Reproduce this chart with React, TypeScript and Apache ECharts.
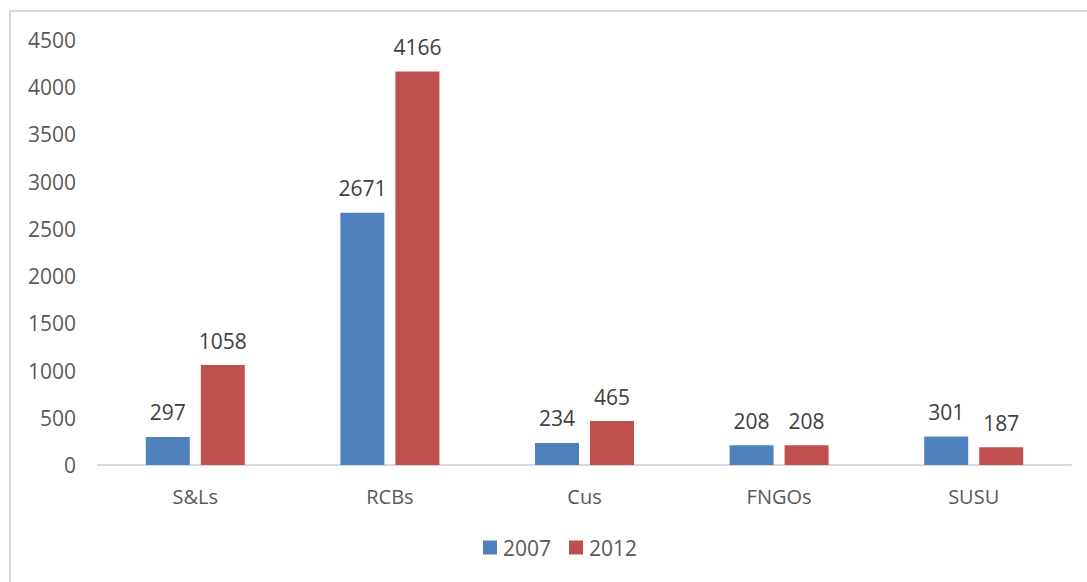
import React, { useEffect, useRef } from "react";
import * as echarts from "echarts";

const categories = ["S&Ls", "RCBs", "Cus", "FNGOs", "SUSU"];
const values2007 = [297, 2671, 234, 208, 301];
const values2012 = [1058, 4166, 465, 208, 187];
const seriesNames = ["2007", "2012"];

export default function App() {
  const ref = useRef<HTMLDivElement>(null);
  useEffect(() => {
    const chart = echarts.init(ref.current!, null, { renderer: "svg" });
    const font = "'Open Sans', 'Noto Sans', sans-serif";
    const label = {
      show: true,
      position: "top" as const,
      distance: 14,
      color: "#404040",
      fontSize: 21,
      fontFamily: font,
    };
    chart.setOption({
      animation: false,
      backgroundColor: "#ffffff",
      graphic: [
        {
          type: "rect",
          shape: { x: 10, y: 11, width: 1200, height: 700 },
          style: { fill: "none", stroke: "#d9d9d9", lineWidth: 2 },
          silent: true,
        },
      ],
      grid: { left: 98, right: 16, top: 40, bottom: 117 },
      legend: {
        data: seriesNames,
        top: 537,
        left: 483,
        padding: 0,
        itemWidth: 14,
        itemHeight: 14,
        itemGap: 18,
        icon: "rect",
        textStyle: { color: "#595959", fontSize: 21, fontFamily: font, padding: [0, 0, 0, 1] },
      },
      xAxis: {
        type: "category",
        data: categories,
        axisLine: { lineStyle: { color: "#d9d9d9", width: 2 } },
        axisTick: { show: false },
        axisLabel: { color: "#595959", fontSize: 20, fontFamily: font, margin: 21 },
      },
      yAxis: {
        type: "value",
        min: 0,
        max: 4500,
        interval: 500,
        axisLine: { show: false },
        axisTick: { show: false },
        splitLine: { show: false },
        axisLabel: {
          color: "#595959",
          fontSize: 21,
          fontFamily: font,
          margin: 22,
          formatter: (v: number) => String(v),
        },
      },
      series: [
        {
          name: seriesNames[0],
          type: "bar",
          data: values2007,
          barWidth: 44,
          barGap: "25%",
          itemStyle: { color: "#4f81bd" },
          label,
        },
        {
          name: seriesNames[1],
          type: "bar",
          data: values2012,
          barWidth: 44,
          barGap: "25%",
          itemStyle: { color: "#c0504d" },
          label,
        },
      ],
    });
    return () => chart.dispose();
  }, []);
  return (
    <div
      ref={ref}
      style={{ position: "fixed", left: 0, top: 0, width: 1087, height: 582 }}
    />
  );
}
